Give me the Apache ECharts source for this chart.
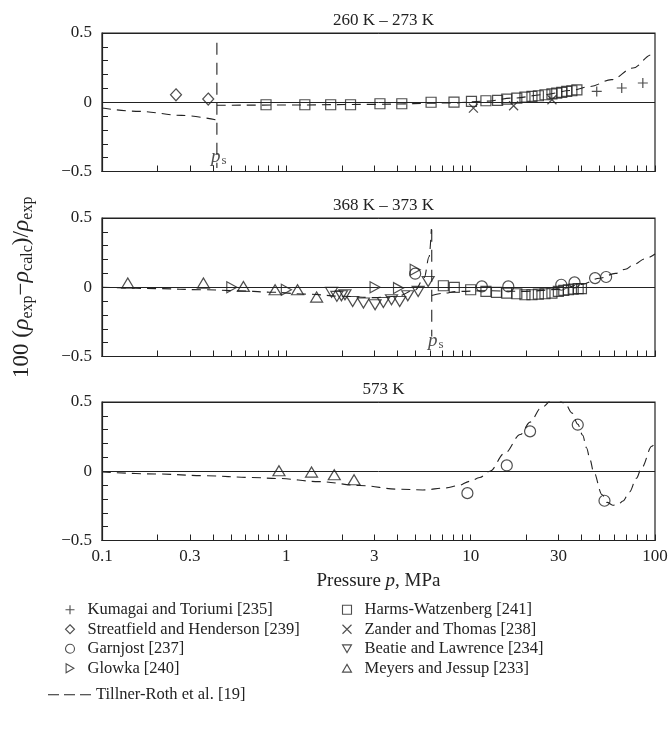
<!DOCTYPE html>
<html>
<head>
<meta charset="utf-8">
<script src="https://cdn.jsdelivr.net/npm/echarts@6/dist/echarts.min.js"></script>
<style>
  html, body { margin: 0; padding: 0; background: #fff; }
  #chart { width: 671px; height: 741px; }
</style>
</head>
<body>
<div id="chart"></div>
<script>
// Density deviations of ammonia, 100 (rho_exp - rho_calc)/rho_exp, versus pressure p in MPa.

const panelTitles = ['260 K – 273 K', '368 K – 373 K', '573 K'];
const pressureTickLabels = [0.1, 0.3, 1, 3, 10, 30, 100];
const pressureTicks = [0.1, 0.2, 0.3, 0.4, 0.5, 0.6, 0.7, 0.8, 0.9,
  1, 2, 3, 4, 5, 6, 7, 8, 9,
  10, 20, 30, 40, 50, 60, 70, 80, 90, 100];
const deviationTicks = [-0.5, 0, 0.5];

// 260 K – 273 K
const kumagai260 = [[48.3, 0.078], [66.0, 0.103], [85.9, 0.139]];
const streatfield260 = [[0.252, 0.054], [0.377, 0.023]];
const harms260 = [[0.776, -0.018], [1.26, -0.018], [1.74, -0.018], [2.23, -0.018],
  [3.22, -0.011], [4.23, -0.011], [6.10, 0.0], [8.12, 0.001], [10.1, 0.006],
  [12.1, 0.011], [14.0, 0.013], [15.7, 0.023], [17.8, 0.030], [19.7, 0.037],
  [21.5, 0.042], [23.3, 0.047], [25.3, 0.054], [27.6, 0.061], [29.3, 0.066],
  [31.2, 0.071], [33.2, 0.078], [35.4, 0.083], [37.7, 0.090]];
const zander260 = [[10.35, -0.042], [17.1, -0.025], [27.6, 0.018]];
const tillner260Liquid = [[0.1, -0.042], [0.16, -0.066], [0.27, -0.095], [0.42, -0.128]];
const tillner260Gas = [[0.42, -0.022], [1, -0.02], [3, -0.015], [8, -0.005], [12, 0.008],
  [17, 0.03], [25, 0.055], [35, 0.085], [44.5, 0.114], [58, 0.163], [76, 0.247],
  [96, 0.343], [100, 0.365]];
const saturation260 = 0.42;
const saturation260Line = [0.43, -0.475];

// 368 K – 373 K
const meyers368 = [[0.138, 0.03], [0.355, 0.03], [0.585, 0.006], [0.869, -0.018],
  [1.15, -0.018], [1.46, -0.071]];
const glowka368 = [[0.506, 0.0], [1.0, -0.018], [3.03, 0.0], [4.06, -0.006], [5.0, 0.126]];
const beattie368 = [[1.76, -0.037], [1.88, -0.066], [1.99, -0.061], [2.08, -0.054],
  [2.29, -0.103], [2.62, -0.114], [3.03, -0.126], [3.36, -0.110], [3.72, -0.090],
  [4.12, -0.103], [4.56, -0.061], [5.19, -0.030], [5.88, 0.042]];
const garnjost368 = [[5.0, 0.098], [11.5, 0.006], [16.0, 0.006], [31.0, 0.018],
  [36.6, 0.035], [47.3, 0.066], [54.3, 0.074]];
const harms368 = [[7.11, 0.011], [8.15, -0.001], [10.0, -0.018], [12.1, -0.030],
  [13.8, -0.037], [15.7, -0.042], [17.8, -0.047], [19.7, -0.054], [21.5, -0.054],
  [23.3, -0.050], [25.3, -0.047], [27.6, -0.042], [29.9, -0.030], [32.0, -0.023],
  [33.9, -0.018], [36.0, -0.013], [38.3, -0.010], [39.9, -0.010]];
const tillner368Gas = [[0.1, 0.0], [0.2, -0.01], [0.35, -0.018], [0.55, -0.025],
  [0.8, -0.035], [1.3, -0.05], [2, -0.065], [3, -0.075], [4, -0.065], [5, -0.02],
  [5.6, 0.07], [5.95, 0.22], [6.12, 0.42]];
const tillner368Liquid = [[6.15, -0.06], [7, -0.045], [8.5, -0.03], [12, -0.025],
  [20, -0.03], [30, -0.015], [40, 0.02], [50, 0.065], [61, 0.1], [69, 0.13],
  [77, 0.165], [88, 0.205], [100, 0.24]];
const saturation368 = 6.15;
const saturation368Line = [0.415, -0.355];

// 573 K
const meyers573 = [[0.912, 0.004], [1.37, -0.006], [1.82, -0.025], [2.33, -0.061]];
const garnjost573 = [[9.6, -0.158], [15.7, 0.042], [21.0, 0.288], [38.1, 0.336], [53.2, -0.213]];
const tillner573 = [[0.1, -0.005], [0.2, -0.02], [0.36, -0.032], [0.65, -0.045],
  [0.9, -0.052], [1.5, -0.075], [2.5, -0.103], [4.1, -0.13], [5.5, -0.135],
  [7.4, -0.12], [8.5, -0.105], [9.9, -0.073], [11.2, -0.045], [12.7, 0.0],
  [15.3, 0.13], [18.6, 0.265], [21, 0.355], [24.2, 0.46], [28.5, 0.53],
  [32.5, 0.49], [35.5, 0.42], [38.1, 0.34], [40.5, 0.26], [42.5, 0.17],
  [44.5, 0.08], [46.3, 0.0], [51.7, -0.17], [55, -0.225], [59, -0.245],
  [63, -0.24], [67, -0.215], [72.7, -0.15], [79.3, -0.05], [84.6, 0.025],
  [96.2, 0.18], [100, 0.21]];

const INK = '#222';
const SERIF = '"Liberation Serif", "DejaVu Serif", serif';

const NAMES = {
  kumagai: 'Kumagai and Toriumi [235]',
  streatfield: 'Streatfield and Henderson [239]',
  garnjost: 'Garnjost [237]',
  glowka: 'Glowka [240]',
  harms: 'Harms-Watzenberg [241]',
  zander: 'Zander and Thomas [238]',
  beattie: 'Beatie and Lawrence [234]',
  meyers: 'Meyers and Jessup [233]',
  tillner: 'Tillner-Roth et al. [19]'
};

const SYMBOLS = {
  kumagai: ['path://M5,0L5,10M0,5L10,5', 10],
  streatfield: ['diamond', [11, 12]],
  garnjost: ['circle', 11],
  glowka: ['path://M0,0L8.66,5L0,10Z', [10, 11]],
  harms: ['rect', 10],
  zander: ['path://M0,0L10,10M10,0L0,10', 9],
  beattie: ['path://M0,0L10,0L5,8.66Z', [12, 10]],
  meyers: ['path://M5,0L10,8.66L0,8.66Z', [12, 10]]
};

// three short dashes, used as the legend key of the correlation curve
const DASH_KEY = 'path://M0,0h11v1.2h-11zM16,0h11v1.2h-11zM32,0h11v1.2h-11z';

const grids = [0, 1, 2].map(g => ({
  left: 102, top: [33, 218, 402][g], width: 553, height: 138.5,
  show: true, borderColor: INK, borderWidth: 1.2, backgroundColor: 'transparent'
}));

const xAxes = [];
[0, 1, 2].forEach(g => {
  // log axis carrying the data
  xAxes.push({ type: 'log', logBase: 10, gridIndex: g, min: 0.1, max: 100, show: false,
    axisLine: { onZero: false } });
  // decade axis carrying the ticks and labels
  xAxes.push({
    type: 'value', gridIndex: g, min: -1, max: 2, position: 'bottom',
    axisLine: { show: true, onZero: false, lineStyle: { color: INK, width: 1.2 } },
    axisTick: { show: true, inside: true, length: 6, lineStyle: { color: INK, width: 1 },
      customValues: pressureTicks.map(Math.log10) },
    axisLabel: g === 2 ? {
      show: true, margin: 8, fontSize: 17, fontFamily: SERIF, color: INK,
      customValues: pressureTickLabels.map(Math.log10),
      formatter: v => String(Number(Math.pow(10, v).toPrecision(3)))
    } : { show: false },
    splitLine: { show: false },
    name: g === 2 ? '{n|Pressure }{i|p}{n|, MPa}' : '',
    nameLocation: 'middle', nameGap: 31,
    nameTextStyle: {
      rich: {
        n: { fontSize: 19, fontFamily: SERIF, color: INK },
        i: { fontSize: 19, fontFamily: SERIF, fontStyle: 'italic', color: INK }
      }
    }
  });
});

const yAxes = [0, 1, 2].map(g => ({
  type: 'value', gridIndex: g, min: -0.5, max: 0.5, interval: 0.5, position: 'left',
  axisLine: { show: true, onZero: false, lineStyle: { color: INK, width: 1.2 } },
  axisTick: { show: true, inside: true, length: 6, lineStyle: { color: INK, width: 1 } },
  minorTick: { show: true, splitNumber: 5, length: 6, lineStyle: { color: INK, width: 1 } },
  axisLabel: {
    margin: 10, fontSize: 17, fontFamily: SERIF, color: INK,
    customValues: deviationTicks,
    formatter: v => (v === 0 ? '0' : String(v).replace('-', '\u2212'))
  },
  splitLine: { show: true, lineStyle: { color: INK, width: 1 } },
  name: g === 1 ? '{n|100 (}{r|ρ}{s|exp}{n|\u2212}{r|ρ}{s|calc}{n|)/}{r|ρ}{s|exp}' : '',
  nameLocation: 'middle', nameGap: 65, nameRotate: 90,
  nameTextStyle: {
    rich: {
      n: { fontSize: 23, fontFamily: SERIF, color: INK, lineHeight: 30 },
      r: { fontSize: 24, fontFamily: SERIF, fontStyle: 'italic', color: INK, lineHeight: 30 },
      s: { fontSize: 16, fontFamily: SERIF, color: INK, lineHeight: 30, padding: [11, 0, 0, 0] }
    }
  }
}));

function markers(key, data, g) {
  return {
    type: 'scatter', name: NAMES[key], data: data,
    xAxisIndex: 2 * g, yAxisIndex: g,
    symbol: SYMBOLS[key][0], symbolSize: SYMBOLS[key][1],
    itemStyle: { color: 'none', borderColor: INK, borderWidth: 1.2 },
    silent: true, z: 3
  };
}

function curve(data, g) {
  return {
    type: 'line', name: NAMES.tillner, data: data,
    xAxisIndex: 2 * g, yAxisIndex: g,
    symbol: 'none', smooth: 0.35, smoothMonotone: 'x',
    lineStyle: { color: INK, width: 1.1, type: [9, 6] },
    itemStyle: { color: INK },
    silent: true, z: 2
  };
}

function saturationLine(p, ends, g) {
  return {
    type: 'line', name: 'saturation', data: [[p, ends[0]], [p, ends[1]]],
    xAxisIndex: 2 * g, yAxisIndex: g,
    symbol: 'none', lineStyle: { color: INK, width: 1.1, type: [12, 8] },
    silent: true, z: 2
  };
}

function saturationLabel(p, v, g, offset) {
  return {
    type: 'scatter', name: 'saturation label', data: [[p, v]],
    xAxisIndex: 2 * g, yAxisIndex: g, symbolSize: 0, silent: true, z: 4,
    label: {
      show: true, position: 'inside', offset: offset,
      formatter: '{p|p}{s|s}',
      rich: {
        p: { fontSize: 19, fontFamily: SERIF, fontStyle: 'italic', color: INK, lineHeight: 22 },
        s: { fontSize: 13, fontFamily: SERIF, color: INK, lineHeight: 22, padding: [7, 0, 0, 1] }
      }
    }
  };
}

const series = [
  saturationLine(saturation260, saturation260Line, 0),
  curve(tillner260Liquid, 0),
  curve(tillner260Gas, 0),
  markers('streatfield', streatfield260, 0),
  markers('harms', harms260, 0),
  markers('zander', zander260, 0),
  markers('kumagai', kumagai260, 0),
  saturationLabel(saturation260, -0.395, 0, [2, 0]),

  saturationLine(saturation368, saturation368Line, 1),
  curve(tillner368Gas, 1),
  curve(tillner368Liquid, 1),
  markers('meyers', meyers368, 1),
  markers('glowka', glowka368, 1),
  markers('beattie', beattie368, 1),
  markers('harms', harms368, 1),
  markers('garnjost', garnjost368, 1),
  saturationLabel(saturation368, -0.39, 1, [4, 0]),

  curve(tillner573, 2),
  markers('meyers', meyers573, 2),
  markers('garnjost', garnjost573, 2)
];

const legendText = { fontSize: 16.5, fontFamily: SERIF, color: INK, lineHeight: 19.5,
  padding: [0, 0, 0, 8] };
const legendCommon = {
  orient: 'vertical', itemWidth: 9, itemHeight: 9, itemGap: 0, selectedMode: false,
  textStyle: legendText, itemStyle: { borderWidth: 1.1 }
};

const option = {
  animation: false,
  backgroundColor: '#fff',
  title: panelTitles.map((t, g) => ({
    text: t, left: 378.5, top: [7, 192, 376][g], textAlign: 'center',
    textStyle: { fontSize: 17, fontWeight: 'normal', fontFamily: SERIF, color: INK }
  })),
  grid: grids,
  xAxis: xAxes,
  yAxis: yAxes,
  legend: [
    Object.assign({}, legendCommon, {
      left: 58, top: 595,
      data: [NAMES.kumagai, NAMES.streatfield, NAMES.garnjost, NAMES.glowka]
    }),
    Object.assign({}, legendCommon, {
      left: 335, top: 595,
      data: [NAMES.harms, NAMES.zander, NAMES.beattie, NAMES.meyers]
    }),
    {
      orient: 'vertical', left: 43, top: 680, itemWidth: 43, itemHeight: 9,
      selectedMode: false,
      textStyle: { fontSize: 16.5, fontFamily: SERIF, color: INK, lineHeight: 19.5 },
      itemStyle: { color: INK, borderWidth: 0 },
      data: [{ name: NAMES.tillner, icon: DASH_KEY }]
    }
  ],
  series: series
};

const chart = echarts.init(document.getElementById('chart'), null, { renderer: 'canvas' });
chart.setOption(option);
</script>
</body>
</html>
